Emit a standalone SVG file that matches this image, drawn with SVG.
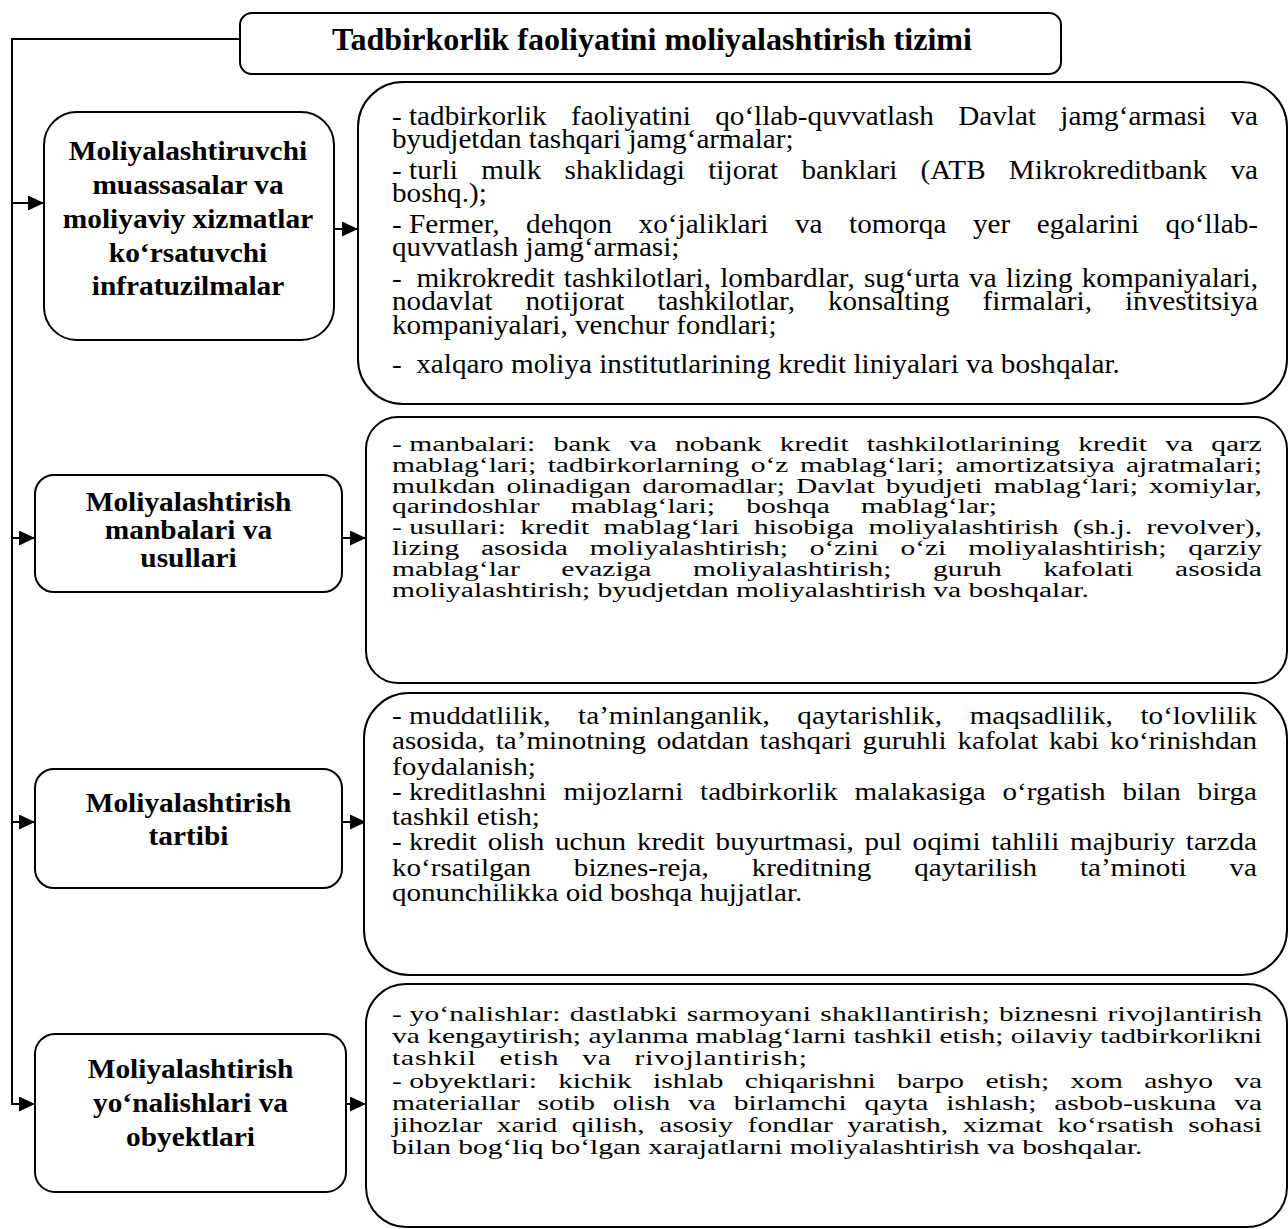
<svg xmlns="http://www.w3.org/2000/svg" width="1288" height="1229" viewBox="0 0 1288 1229">
<defs>
<marker id="arr" markerUnits="userSpaceOnUse" markerWidth="16" markerHeight="15" refX="16" refY="7.5" orient="auto">
<path d="M0,0 L16,7.5 L0,15 Z" fill="#000"/>
</marker>
</defs>
<style>
.box{fill:#fff;stroke:#000;stroke-width:2}
.con{fill:none;stroke:#000;stroke-width:2}
.t{font-family:"Liberation Serif","Times New Roman",serif;fill:#000}
.b{font-family:"Liberation Serif","Times New Roman",serif;font-weight:bold;fill:#000;text-anchor:middle}
.d{word-spacing:0}
</style>
<rect width="1288" height="1229" fill="#fff"/>

<g id="connectors">
<path class="con" d="M240,39 H12 V1104 H35" marker-end="url(#arr)"/>
<path class="con" d="M12,203 H44" marker-end="url(#arr)"/>
<path class="con" d="M12,538 H35" marker-end="url(#arr)"/>
<path class="con" d="M12,822 H35" marker-end="url(#arr)"/>
<path class="con" d="M334,229 H358" marker-end="url(#arr)"/>
<path class="con" d="M342,538 H366" marker-end="url(#arr)"/>
<path class="con" d="M342,822 H366" marker-end="url(#arr)"/>
<path class="con" d="M346,1104 H366" marker-end="url(#arr)"/>
</g>

<g id="title">
<rect class="box" x="240" y="13" width="821" height="61" rx="12"/>
<text class="b" x="652" y="50" font-size="31" textLength="640" lengthAdjust="spacingAndGlyphs">Tadbirkorlik faoliyatini moliyalashtirish tizimi</text>
</g>

<g id="left1">
<rect class="box" x="44" y="112" width="290" height="228" rx="33"/>
<g transform="translate(188,0) scale(1.05,1)" font-size="28">
<text class="b" x="0" y="160">Moliyalashtiruvchi</text>
<text class="b" x="0" y="194">muassasalar va</text>
<text class="b" x="0" y="228">moliyaviy xizmatlar</text>
<text class="b" x="0" y="262">ko‘rsatuvchi</text>
<text class="b" x="0" y="295">infratuzilmalar</text>
</g>
</g>

<g id="left2">
<rect class="box" x="35" y="475" width="307" height="117" rx="19"/>
<g transform="translate(188.5,0) scale(1.05,1)" font-size="28">
<text class="b" x="0" y="511">Moliyalashtirish</text>
<text class="b" x="0" y="539">manbalari va</text>
<text class="b" x="0" y="567">usullari</text>
</g>
</g>

<g id="left3">
<rect class="box" x="35" y="769" width="307" height="119" rx="19"/>
<g transform="translate(188.5,0) scale(1.05,1)" font-size="28">
<text class="b" x="0" y="812">Moliyalashtirish</text>
<text class="b" x="0" y="845">tartibi</text>
</g>
</g>

<g id="left4">
<rect class="box" x="35" y="1034" width="311" height="158" rx="20"/>
<g transform="translate(190.5,0) scale(1.05,1)" font-size="28">
<text class="b" x="0" y="1078">Moliyalashtirish</text>
<text class="b" x="0" y="1112">yo‘nalishlari va</text>
<text class="b" x="0" y="1146">obyektlari</text>
</g>
</g>

<g id="right1">
<rect class="box" x="358" y="82" width="929" height="322" rx="45"/>
<g transform="translate(392,0) scale(1.08,1)" font-size="27" class="t">
<text x="0" y="125" word-spacing="15.8" textLength="801.9" lengthAdjust="spacing"><tspan class="d">-&#160;</tspan>tadbirkorlik faoliyatini qo‘llab-quvvatlash Davlat jamg‘armasi va</text>
<text x="0" y="148">byudjetdan tashqari jamg‘armalar;</text>
<text x="0" y="179" word-spacing="14.7" textLength="801.9" lengthAdjust="spacing"><tspan class="d">-&#160;</tspan>turli mulk shaklidagi tijorat banklari (ATB Mikrokreditbank va</text>
<text x="0" y="202">boshq.);</text>
<text x="0" y="233" word-spacing="17.8" textLength="801.9" lengthAdjust="spacing"><tspan class="d">-&#160;</tspan>Fermer, dehqon xo‘jaliklari va tomorqa yer egalarini qo‘llab-</text>
<text x="0" y="256">quvvatlash jamg‘armasi;</text>
<text x="0" y="287" word-spacing="1.7" textLength="801.9" lengthAdjust="spacing"><tspan class="d">-&#160;&#160;</tspan>mikrokredit tashkilotlari, lombardlar, sug‘urta va lizing kompaniyalari,</text>
<text x="0" y="310" word-spacing="23.7" textLength="801.9" lengthAdjust="spacing">nodavlat notijorat tashkilotlar, konsalting firmalari, investitsiya</text>
<text x="0" y="334">kompaniyalari, venchur fondlari;</text>
<text x="0" y="373">-&#160; xalqaro moliya institutlarining kredit liniyalari va boshqalar.</text>
</g>
</g>

<g id="right2">
<rect class="box" x="366" y="417" width="921" height="266" rx="32"/>
<g transform="translate(392,0) scale(1.475,1)" font-size="20" class="t">
<text x="0" y="451" word-spacing="7.3" textLength="589.8" lengthAdjust="spacing"><tspan class="d">-&#160;</tspan>manbalari: bank va nobank kredit tashkilotlarining kredit va qarz</text>
<text x="0" y="471.8" word-spacing="2.8" textLength="589.8" lengthAdjust="spacing">mablag‘lari; tadbirkorlarning o‘z mablag‘lari; amortizatsiya ajratmalari;</text>
<text x="0" y="492.6" word-spacing="2.5" textLength="589.8" lengthAdjust="spacing">mulkdan olinadigan daromadlar; Davlat byudjeti mablag‘lari; xomiylar,</text>
<text x="0" y="513.4" word-spacing="16.2" textLength="410.2" lengthAdjust="spacing">qarindoshlar mablag‘lari; boshqa mablag‘lar;</text>
<text x="0" y="534.2" word-spacing="4.8" textLength="589.8" lengthAdjust="spacing"><tspan class="d">-&#160;</tspan>usullari: kredit mablag‘lari hisobiga moliyalashtirish (sh.j. revolver),</text>
<text x="0" y="555" word-spacing="9.8" textLength="589.8" lengthAdjust="spacing">lizing asosida moliyalashtirish; o‘zini o‘zi moliyalashtirish; qarziy</text>
<text x="0" y="575.8" word-spacing="23.2" textLength="589.8" lengthAdjust="spacing">mablag‘lar evaziga moliyalashtirish; guruh kafolati asosida</text>
<text x="0" y="596.6">moliyalashtirish; byudjetdan moliyalashtirish va boshqalar.</text>
</g>
</g>

<g id="right3">
<rect class="box" x="364" y="693" width="923" height="282" rx="45"/>
<g transform="translate(392,0) scale(1.164,1)" font-size="25" class="t">
<text x="0" y="724" word-spacing="17.5" textLength="743.1" lengthAdjust="spacing"><tspan class="d">-&#160;</tspan>muddatlilik, ta’minlanganlik, qaytarishlik, maqsadlilik, to‘lovlilik</text>
<text x="0" y="749.3" word-spacing="3" textLength="743.1" lengthAdjust="spacing">asosida, ta’minotning odatdan tashqari guruhli kafolat kabi ko‘rinishdan</text>
<text x="0" y="774.6">foydalanish;</text>
<text x="0" y="799.9" word-spacing="8.2" textLength="743.1" lengthAdjust="spacing"><tspan class="d">-&#160;</tspan>kreditlashni mijozlarni tadbirkorlik malakasiga o‘rgatish bilan birga</text>
<text x="0" y="825.2">tashkil etish;</text>
<text x="0" y="850.5" word-spacing="3" textLength="743.1" lengthAdjust="spacing"><tspan class="d">-&#160;</tspan>kredit olish uchun kredit buyurtmasi, pul oqimi tahlili majburiy tarzda</text>
<text x="0" y="875.8" word-spacing="30.6" textLength="743.1" lengthAdjust="spacing">ko‘rsatilgan biznes-reja, kreditning qaytarilish ta’minoti va</text>
<text x="0" y="901.1">qonunchilikka oid boshqa hujjatlar.</text>
</g>
</g>

<g id="right4">
<rect class="box" x="366" y="984" width="921" height="243" rx="40"/>
<g transform="translate(392,0) scale(1.34,1)" font-size="22" class="t">
<text x="0" y="1021" word-spacing="1.2" textLength="649.3" lengthAdjust="spacing"><tspan class="d">-&#160;</tspan>yo‘nalishlar: dastlabki sarmoyani shakllantirish; biznesni rivojlantirish</text>
<text x="0" y="1043.2" textLength="649.3" lengthAdjust="spacing">va kengaytirish; aylanma mablag‘larni tashkil etish; oilaviy tadbirkorlikni</text>
<text x="0" y="1065.4" word-spacing="10.9" textLength="309.7" lengthAdjust="spacing">tashkil etish va rivojlantirish;</text>
<text x="0" y="1087.6" word-spacing="10.4" textLength="649.3" lengthAdjust="spacing"><tspan class="d">-&#160;</tspan>obyektlari: kichik ishlab chiqarishni barpo etish; xom ashyo va</text>
<text x="0" y="1109.8" word-spacing="7.8" textLength="649.3" lengthAdjust="spacing">materiallar sotib olish va birlamchi qayta ishlash; asbob-uskuna va</text>
<text x="0" y="1132" word-spacing="5.4" textLength="649.3" lengthAdjust="spacing">jihozlar xarid qilish, asosiy fondlar yaratish, xizmat ko‘rsatish sohasi</text>
<text x="0" y="1154.2">bilan bog‘liq bo‘lgan xarajatlarni moliyalashtirish va boshqalar.</text>
</g>
</g>
</svg>
